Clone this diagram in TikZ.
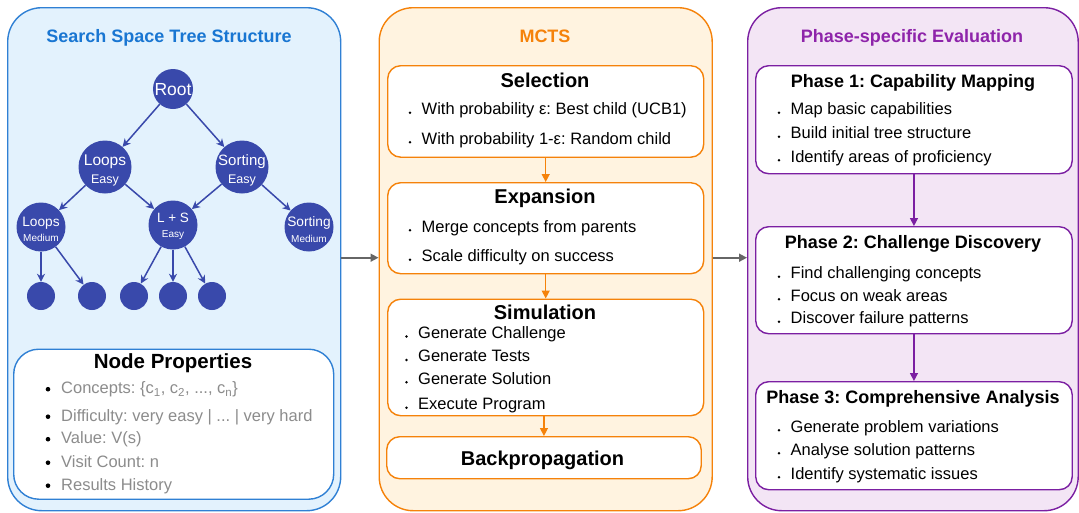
\documentclass[tikz,border=0pt]{standalone}
\usepackage{fontspec}
\setmainfont{Liberation Sans}
\usetikzlibrary{arrows.meta}
\frenchspacing

\definecolor{treeblue}{HTML}{2F80D4}
\definecolor{treetitle}{HTML}{1976D2}
\definecolor{treefill}{HTML}{E3F2FD}
\definecolor{nodeblue}{HTML}{3949AB}
\definecolor{mctsorange}{HTML}{F5820A}
\definecolor{mctsfill}{HTML}{FFF3E0}
\definecolor{phasepurple}{HTML}{7B1FA2}
\definecolor{phasetitle}{HTML}{8E24AA}
\definecolor{phasefill}{HTML}{F3E5F5}
\definecolor{proptext}{HTML}{8C8C8C}
\definecolor{linkgray}{HTML}{666666}

% item line: bullet dot + text set on a baseline
\newcommand\smallitem[4]{%
  \fill (#2-11.5,#3-1.8) circle (1.35);
  \node[itemtext] (#1) at (#2,#3) {#4};}
\newcommand\propitem[4]{%
  \fill (#2-13,#3-4.3) circle (2.3);
  \node[itemtext,text=proptext] (#1) at (#2,#3) {#4};}

\begin{document}
\begin{tikzpicture}[x=1pt,y=-1pt,
  panel/.style={draw, line width=1.4pt, rounded corners=34pt, anchor=north west, inner sep=0pt},
  stagebox/.style={draw, fill=white, line width=1.4pt, rounded corners=13pt, anchor=north west, inner sep=0pt},
  paneltitle/.style={font=\bfseries\fontsize{18}{20}\selectfont, anchor=base},
  boxtitle/.style={font=\bfseries\fontsize{20}{23}\selectfont, anchor=base},
  phasetitlefont/.style={font=\bfseries\fontsize{18}{21}\selectfont, anchor=base},
  itemtext/.style={font=\fontsize{16.5}{19}\selectfont, anchor=base west, inner sep=0pt},
  tnode/.style={circle, fill=nodeblue, inner sep=0pt},
  tlabel/.style={text=white, inner sep=0pt, align=center},
  tedge/.style={draw=nodeblue, line width=1.5pt, -{Stealth[length=8pt,width=8pt,inset=2.5pt]}},
  flow/.style={line width=1.4pt, -{Triangle[length=8pt,width=8pt]}},
  link/.style={draw=linkgray, line width=1.6pt, -{Triangle[length=8pt,width=8pt]}}
]
\useasboundingbox (0,0) rectangle (1079,512);

% ---------- panels ----------
\node[panel, draw=treeblue, fill=treefill, minimum width=333pt, minimum height=503pt] (tree) at (7,7) {};
\node[panel, draw=mctsorange, fill=mctsfill, minimum width=333pt, minimum height=503pt] (mcts) at (378.5,7) {};
\node[panel, draw=phasepurple, fill=phasefill, minimum width=330.5pt, minimum height=503pt] (eval) at (747,7) {};

\node[paneltitle, text=treetitle] (treettl) at (169,42.5) {Search Space Tree Structure};
\node[paneltitle, text=mctsorange] (mctsttl) at (545,42.5) {MCTS};
\node[paneltitle, text=phasetitle] (evalttl) at (912,42.5) {Phase-specific Evaluation};

% ---------- search tree ----------
\node[tnode, minimum size=40pt] (root) at (173,89) {};
\node[tnode, minimum size=53pt] (le) at (105,167) {};
\node[tnode, minimum size=53pt] (se) at (242,167) {};
\node[tnode, minimum size=49pt] (lm) at (41,227) {};
\node[tnode, minimum size=49pt] (ls) at (173,225) {};
\node[tnode, minimum size=49pt] (sm) at (309,227) {};
\foreach \n/\x in {l1/41, l2/92, l3/134, l4/173, l5/212}
  \node[tnode, minimum size=28pt] (\n) at (\x,296) {};

\node[tlabel, font=\fontsize{17.5}{20}\selectfont] (rootT) at ([yshift=-0.5pt]root) {Root};
\node[tlabel, font=\fontsize{15.5}{18}\selectfont] (leT) at ([yshift=-3.5pt]le)
  {Loops\\{\fontsize{12.5}{18}\selectfont Easy}};
\node[tlabel, font=\fontsize{15}{18}\selectfont] (seT) at ([yshift=-3.5pt]se)
  {Sorting\\{\fontsize{12.5}{18}\selectfont Easy}};
\node[tlabel, font=\fontsize{13.7}{15.5}\selectfont] (lmT) at ([yshift=-2.5pt]lm)
  {Loops\\{\fontsize{10}{15.5}\selectfont Medium}};
\node[tlabel, font=\fontsize{13.5}{15.5}\selectfont] (lsT) at ([yshift=-1.5pt]ls)
  {L + S\\{\fontsize{10}{15.5}\selectfont Easy}};
\node[tlabel, font=\fontsize{13.7}{15.5}\selectfont] (smT) at ([yshift=-2.5pt]sm)
  {Sorting\\{\fontsize{10}{15.5}\selectfont Medium}};

\draw[tedge] (root) -- (le);
\draw[tedge] (root) -- (se);
\draw[tedge] (le) -- (lm);
\draw[tedge] (le) -- (ls);
\draw[tedge] (se) -- (ls);
\draw[tedge] (se) -- (sm);
\draw[tedge] (lm) -- (l1);
\draw[tedge] (lm) -- (l2);
\draw[tedge] (ls) -- (l3);
\draw[tedge] (ls) -- (l4);
\draw[tedge] (ls) -- (l5);

% ---------- node properties ----------
\node[draw=treeblue, fill=white, line width=1.4pt, rounded corners=25pt, anchor=north west,
      inner sep=0pt, minimum width=320pt, minimum height=150pt] (props) at (13,348.5) {};
\node[boxtitle, font=\bfseries\fontsize{20.5}{23}\selectfont] (propttl) at (173,368) {Node Properties};
\propitem{p1}{61}{393.5}{Concepts: \{c\textsubscript{1}, c\textsubscript{2}, ..., c\textsubscript{n}\}}
\propitem{p2}{61}{421}{Difficulty: very easy | ... | very hard}
\propitem{p3}{61}{443.5}{Value: V(s)}
\propitem{p4}{61}{467}{Visit Count: n}
\propitem{p5}{61}{490}{Results History}

% ---------- MCTS stages ----------
\node[stagebox, draw=mctsorange, minimum width=316pt, minimum height=91.5pt] (sel) at (387,65) {};
\node[stagebox, draw=mctsorange, minimum width=316pt, minimum height=91pt] (exp) at (387,182) {};
\node[stagebox, draw=mctsorange, minimum width=316pt, minimum height=116.5pt] (sim) at (387,298.5) {};
\node[stagebox, draw=mctsorange, minimum width=314.5pt, minimum height=42pt] (bp) at (386,436) {};

\node[boxtitle] (selttl) at (545,87) {Selection};
\smallitem{s1}{421.5}{114.5}{With probability ε: Best child (UCB1)}
\smallitem{s2}{421.5}{144}{With probability 1-ε: Random child}

\node[boxtitle] (expttl) at (545,203.5) {Expansion};
\smallitem{e1}{421.5}{232}{Merge concepts from parents}
\smallitem{e2}{421.5}{261.5}{Scale difficulty on success}

\node[boxtitle] (simttl) at (545,319) {Simulation};
\smallitem{m1}{418}{338.3}{Generate Challenge}
\smallitem{m2}{418}{361.7}{Generate Tests}
\smallitem{m3}{418}{384}{Generate Solution}
\smallitem{m4}{418}{409.5}{Execute Program}

\node[boxtitle] (bpttl) at (542.5,465.5) {Backpropagation};

\draw[flow, draw=mctsorange, fill=mctsorange] (sel) -- (exp);
\draw[flow, draw=mctsorange, fill=mctsorange] (exp) -- (sim);
\draw[flow, draw=mctsorange, fill=mctsorange] (sim.south -| bp.north) -- (bp.north);

% ---------- evaluation phases ----------
\node[stagebox, draw=phasepurple, minimum width=316.5pt, minimum height=108pt] (ph1) at (755,65) {};
\node[stagebox, draw=phasepurple, minimum width=316.5pt, minimum height=107pt] (ph2) at (755,226) {};
\node[stagebox, draw=phasepurple, minimum width=316.5pt, minimum height=108pt] (ph3) at (755,381) {};

\node[phasetitlefont] (ph1ttl) at (913,87) {Phase 1: Capability Mapping};
\smallitem{a1}{790.5}{114.5}{Map basic capabilities}
\smallitem{a2}{790.5}{138.5}{Build initial tree structure}
\smallitem{a3}{790.5}{162}{Identify areas of proficiency}

\node[phasetitlefont] (ph2ttl) at (913,248) {Phase 2: Challenge Discovery};
\smallitem{b1}{790.5}{278.5}{Find challenging concepts}
\smallitem{b2}{790.5}{301}{Focus on weak areas}
\smallitem{b3}{790.5}{323.5}{Discover failure patterns}

\node[phasetitlefont] (ph3ttl) at (913,403) {Phase 3: Comprehensive Analysis};
\smallitem{c1}{790.5}{432}{Generate problem variations}
\smallitem{c2}{790.5}{455}{Analyse solution patterns}
\smallitem{c3}{790.5}{479}{Identify systematic issues}

\draw[flow, draw=phasepurple, fill=phasepurple] (ph1) -- (ph2);
\draw[flow, draw=phasepurple, fill=phasepurple] (ph2) -- (ph3);

% ---------- links between panels ----------
\draw[link, fill=linkgray] ([yshift=1.5pt]tree.east) -- ([yshift=1.5pt]mcts.west);
\draw[link, fill=linkgray] ([yshift=1.5pt]mcts.east) -- ([yshift=1.5pt]eval.west);
\end{tikzpicture}
\end{document}
